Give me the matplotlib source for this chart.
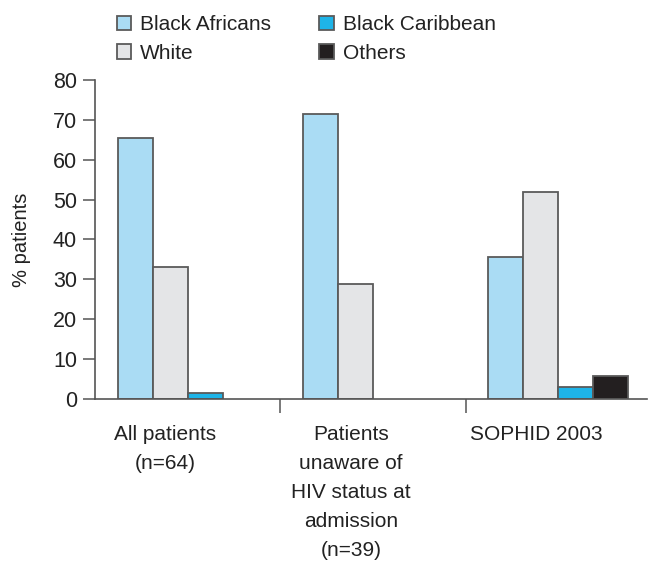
import numpy as np
import matplotlib.pyplot as plt

plt.rcParams['font.family'] = ['Liberation Sans', 'DejaVu Sans']

groups = ["All patients\n(n=64)",
          "Patients\nunaware of\nHIV status at\nadmission\n(n=39)",
          "SOPHID 2003"]
series = ["Black Africans", "White", "Black Caribbean", "Others"]
black_africans = [65.5, 71.4, 35.5]
white = [33.0, 28.8, 51.9]
black_caribbean = [1.5, np.nan, 3.0]
others = [np.nan, np.nan, 5.7]
colors = ["#aadcf4", "#e4e5e7", "#1eb4e8", "#231f20"]

values = [black_africans, white, black_caribbean, others]

fig = plt.figure(figsize=(6.49, 5.62), dpi=100)
ax = fig.add_axes([0.1464, 0.290, 0.851, 0.568])

x = np.arange(len(groups))
w = 0.189
for k, (name, vals, c) in enumerate(zip(series, values, colors)):
    ax.bar(x + (k - 1.5) * w, vals, w, color=c, edgecolor="#5a5a5a",
           linewidth=1.3, label=name, zorder=2)

ax.set_xlim(-0.5, 2.48)
ax.set_ylim(0, 80)
ax.set_yticks(range(0, 81, 10))
ax.set_xticks([0.5, 1.5])
ax.set_xticklabels([])
for s in ["top", "right"]:
    ax.spines[s].set_visible(False)
for s in ["left", "bottom"]:
    ax.spines[s].set_color("#555555")
    ax.spines[s].set_linewidth(1.2)
ax.tick_params(axis="y", length=9, width=1.1, color="#555555",
               labelsize=15.5, labelcolor="#222222", pad=4)
ax.tick_params(axis="x", length=10, width=1.1, color="#555555", direction="out")
ax.set_ylabel("% patients", fontsize=14.5, color="#222222", labelpad=16)

for i, g in enumerate(groups):
    ax.text(i - 0.12, -6.6, g, ha="center", va="top", fontsize=15,
            color="#222222", linespacing=1.66)

fig.legend(ncol=2, loc="upper left", bbox_to_anchor=(0.151, 1.006),
           frameon=False, fontsize=15, handlelength=0.7, handleheight=0.7,
           handletextpad=0.43, columnspacing=2.3, labelspacing=0.45,
           labelcolor="#222222")

fig.savefig("out.png", dpi=100)
